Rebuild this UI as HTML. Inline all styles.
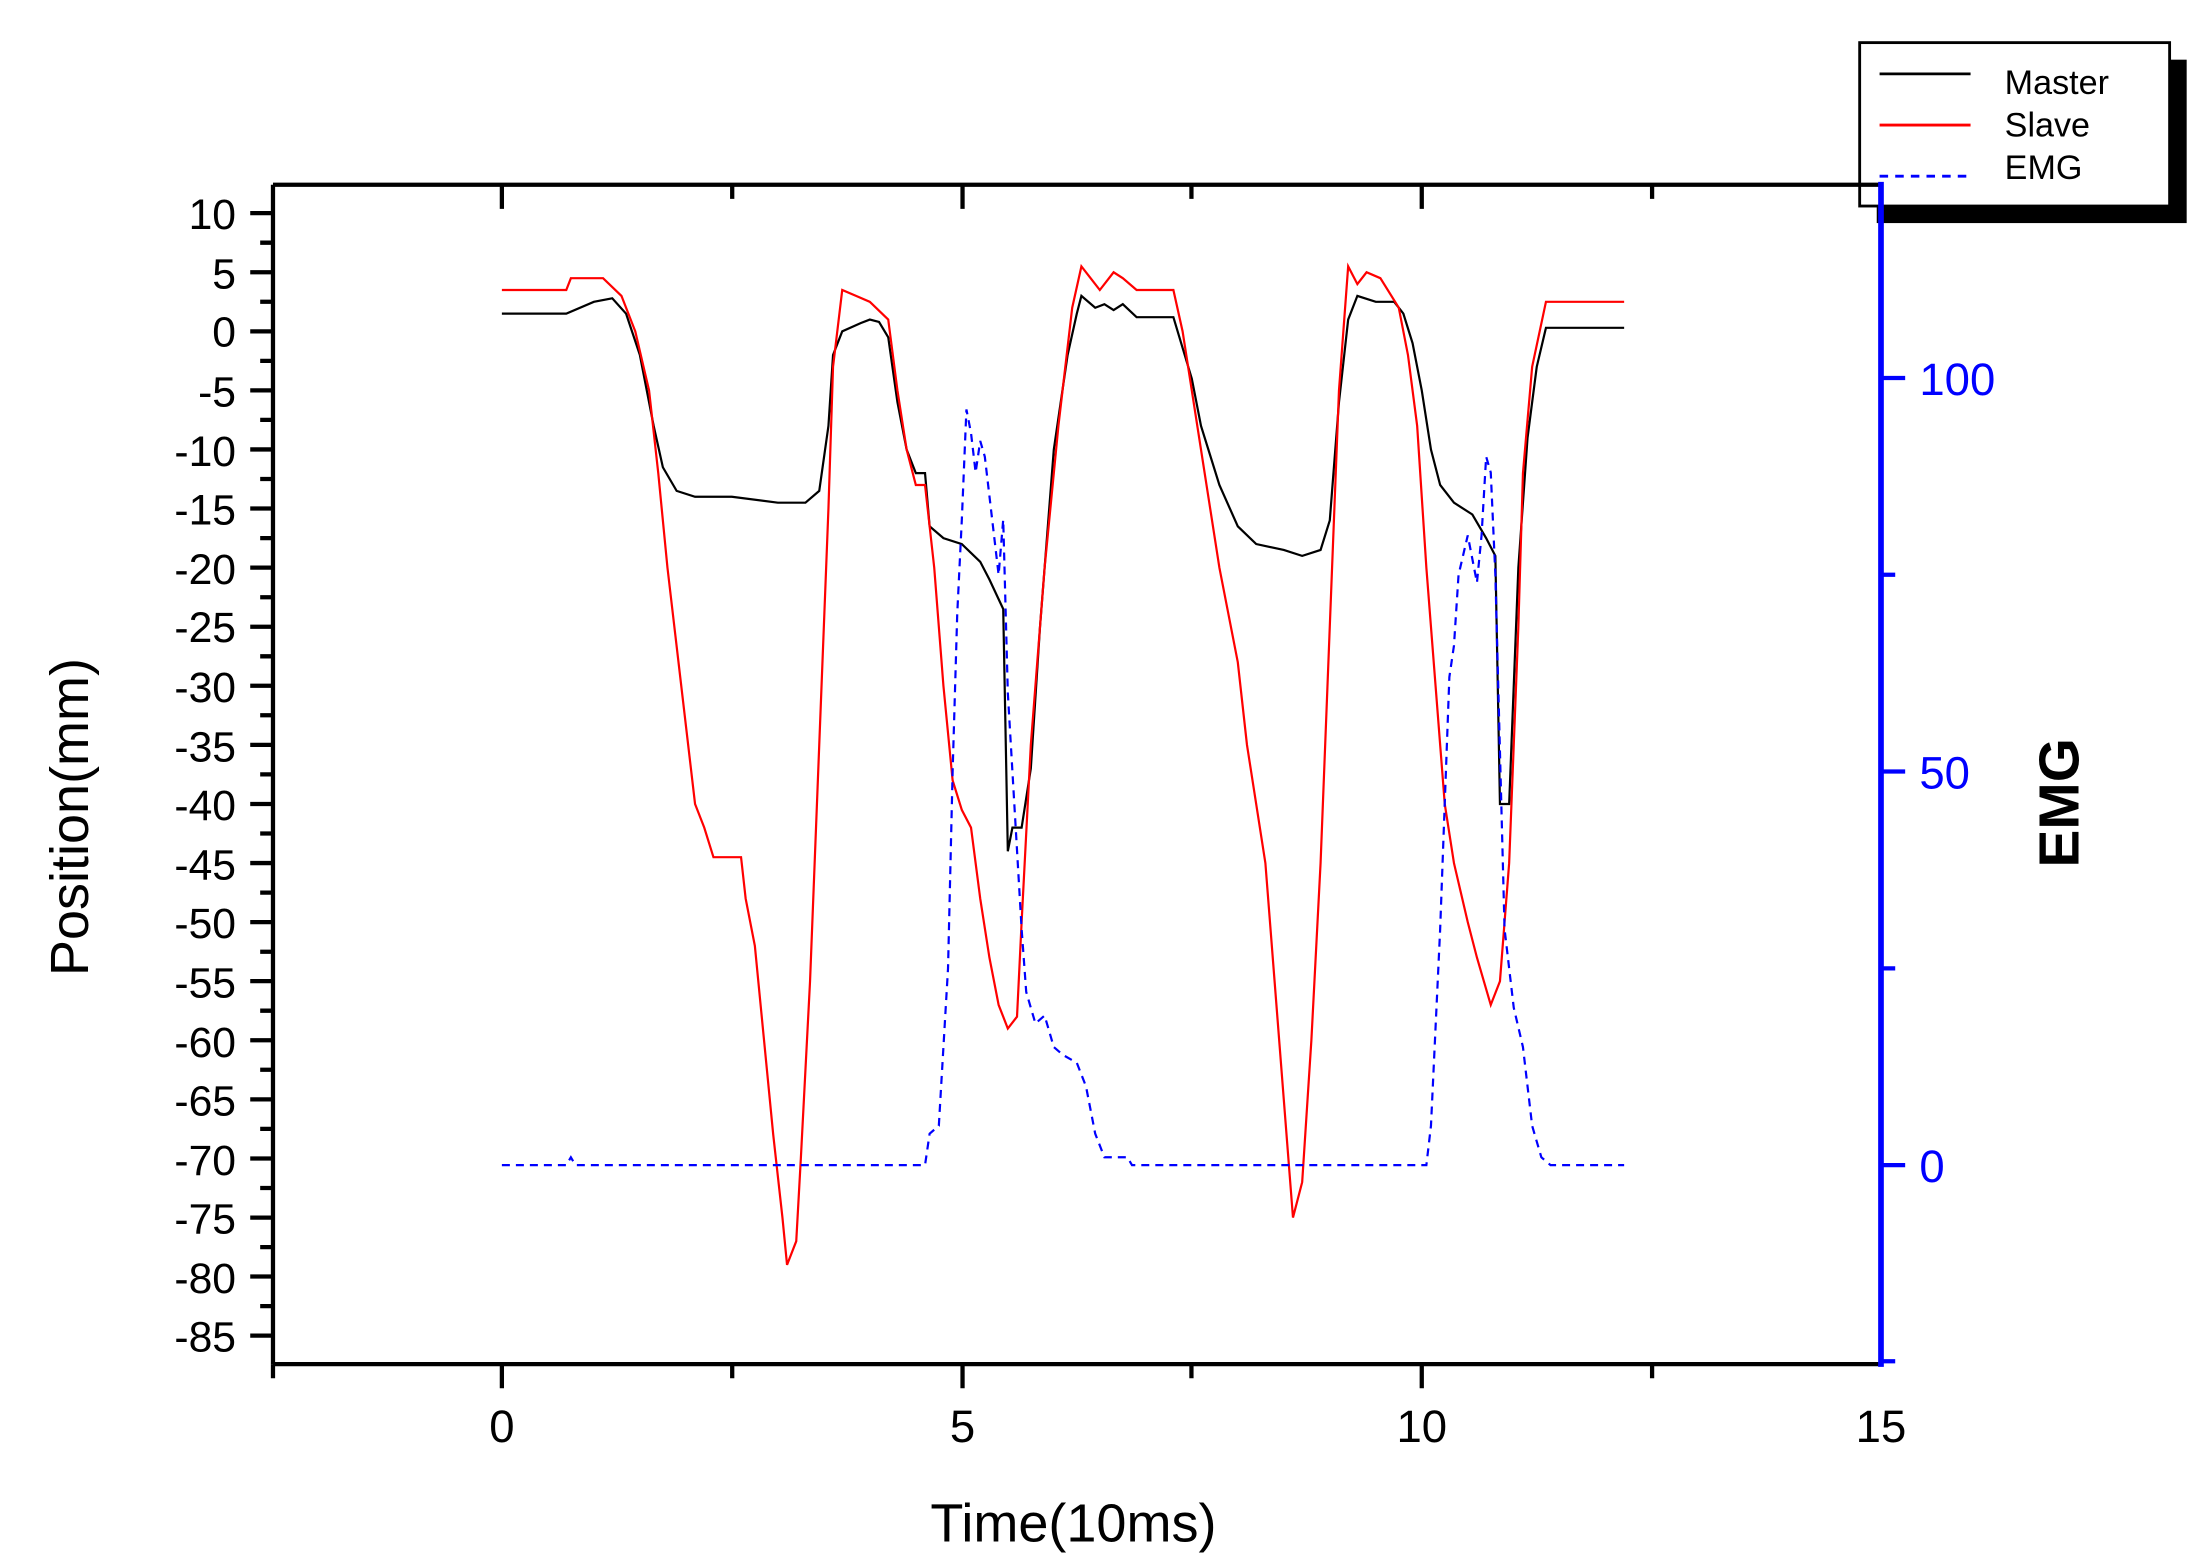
<!DOCTYPE html>
<html><head><meta charset="utf-8"><style>html,body{margin:0;padding:0;background:#fff}svg{display:block}</style></head>
<body>
<svg width="2208" height="1563" viewBox="0 0 1553 1100" preserveAspectRatio="none" xmlns="http://www.w3.org/2000/svg" font-family="Liberation Sans, sans-serif">
<rect width="1553" height="1100" fill="#fff"/>
<rect x="1320" y="42" width="218" height="115" fill="#000"/>
<rect x="1308" y="30" width="218" height="115" fill="#fff" stroke="#000" stroke-width="2"/>
<line x1="1322" y1="52" x2="1386" y2="52" stroke="#000" stroke-width="2"/>
<line x1="1322" y1="88" x2="1386" y2="88" stroke="#f00" stroke-width="2"/>
<line x1="1322" y1="124" x2="1386" y2="124" stroke="#00f" stroke-width="2" stroke-dasharray="6,5"/>
<text x="1410" y="66" font-size="24" fill="#000">Master</text>
<text x="1410" y="96" font-size="24" fill="#000">Slave</text>
<text x="1410" y="126" font-size="24" fill="#000">EMG</text>

<g transform="matrix(64.7 0 0 -8.316 353 233.2)" fill="none">
<polyline vector-effect="non-scaling-stroke" stroke="#000" stroke-width="2.2" points="0,1.5 0.7,1.5 1.0,2.5 1.2,2.8 1.35,1.5 1.5,-2 1.65,-8 1.75,-11.5 1.9,-13.5 2.1,-14 2.5,-14 3.0,-14.5 3.3,-14.5 3.45,-13.5 3.55,-8 3.6,-2 3.7,0 3.9,0.7 4.0,1.0 4.1,0.8 4.2,-0.5 4.3,-6 4.4,-10 4.5,-12 4.6,-12 4.65,-16.5 4.8,-17.5 5.0,-18 5.2,-19.5 5.3,-21 5.45,-23.5 5.5,-44 5.55,-42 5.65,-42 5.75,-37 5.85,-25 6.0,-10 6.15,-2 6.25,1.5 6.3,3 6.45,2 6.55,2.3 6.65,1.8 6.75,2.3 6.9,1.2 7.3,1.2 7.5,-4 7.6,-8 7.8,-13 8.0,-16.5 8.2,-18 8.5,-18.5 8.7,-19 8.9,-18.5 9.0,-16 9.1,-6 9.2,1 9.3,3 9.5,2.5 9.7,2.5 9.8,1.5 9.9,-1 10.0,-5 10.1,-10 10.2,-13 10.35,-14.5 10.55,-15.5 10.7,-17.5 10.8,-19 10.85,-40 10.95,-40 11.0,-30 11.05,-20 11.15,-9 11.25,-3 11.35,0.3 12.2,0.3"/>
<polyline vector-effect="non-scaling-stroke" stroke="#f00" stroke-width="2.2" points="0,3.5 0.7,3.5 0.75,4.5 1.1,4.5 1.3,3 1.45,0 1.6,-5 1.7,-12 1.8,-20 1.95,-30 2.1,-40 2.2,-42 2.3,-44.5 2.6,-44.5 2.65,-48 2.75,-52 2.85,-60 2.95,-68 3.05,-75 3.1,-79 3.2,-77 3.25,-70 3.35,-55 3.45,-35 3.55,-15 3.6,-3 3.7,3.5 3.85,3 4.0,2.5 4.2,1 4.3,-5 4.4,-10 4.5,-13 4.6,-13 4.7,-20 4.8,-30 4.9,-38 5.0,-40.5 5.1,-42 5.2,-48 5.3,-53 5.4,-57 5.5,-59 5.6,-58 5.65,-50 5.75,-35 5.9,-20 6.05,-8 6.2,2 6.3,5.5 6.4,4.5 6.5,3.5 6.65,5 6.75,4.5 6.9,3.5 7.3,3.5 7.4,0 7.6,-10 7.8,-20 8.0,-28 8.1,-35 8.3,-45 8.4,-55 8.5,-65 8.6,-75 8.7,-72 8.8,-60 8.9,-45 9.0,-25 9.1,-5 9.2,5.5 9.3,4 9.4,5 9.55,4.5 9.75,2 9.85,-2 9.95,-8 10.05,-20 10.15,-30 10.25,-40 10.35,-45 10.5,-50 10.6,-53 10.75,-57 10.85,-55 10.95,-45 11.05,-25 11.1,-12 11.2,-3 11.35,2.5 12.2,2.5"/>
</g>
<g transform="matrix(64.7 0 0 -5.54 353 820)" fill="none">
<polyline vector-effect="non-scaling-stroke" stroke="#00f" stroke-width="2.2" stroke-dasharray="8,6" points="0,0 0.7,0 0.75,1 0.8,0 4.6,0 4.65,4 4.75,5 4.85,25 4.9,50 4.95,70 5.0,82 5.05,96 5.1,93 5.15,88 5.2,92 5.25,90 5.3,85 5.35,80 5.4,75 5.45,82 5.5,60 5.55,50 5.6,40 5.65,30 5.7,22 5.75,20 5.8,18 5.9,19 6.0,15 6.1,14 6.25,13 6.35,10 6.45,4 6.55,1 6.8,1 6.85,0 7.3,0 10.05,0 10.1,5 10.2,30 10.3,62 10.35,66 10.4,75 10.5,80 10.6,74 10.65,80 10.7,90 10.75,88 10.8,75 10.9,30 11.0,20 11.1,15 11.2,5 11.3,1 11.4,0 12.2,0"/>
</g>

<g stroke="#000" stroke-width="3" fill="none">
<line x1="192" y1="130" x2="1323" y2="130"/>
<line x1="192" y1="960" x2="1323" y2="960"/>
<line x1="192" y1="130" x2="192" y2="960"/>
</g>
<line x1="1323" y1="128" x2="1323" y2="962" stroke="#00f" stroke-width="4"/>

<g stroke="#000" stroke-width="3">
<path d="M176 150H192M176 191.6H192M176 233.2H192M176 274.7H192M176 316.3H192M176 357.9H192M176 399.5H192M176 441.1H192M176 482.6H192M176 524.2H192M176 565.8H192M176 607.4H192M176 649H192M176 690.5H192M176 732.1H192M176 773.7H192M176 815.3H192M176 856.9H192M176 898.4H192M176 940H192"/>
<path d="M183 170.8H192M183 212.4H192M183 254H192M183 295.5H192M183 337.1H192M183 378.7H192M183 420.3H192M183 461.9H192M183 503.4H192M183 545H192M183 586.6H192M183 628.2H192M183 669.8H192M183 711.3H192M183 752.9H192M183 794.5H192M183 836.1H192M183 877.7H192M183 919.2H192"/>
<path d="M353 130V147M677 130V147M1000 130V147M515 130V140M838 130V140M1162 130V140"/>
<path d="M192 960V970M353 960V977M677 960V977M1000 960V977M515 960V970M838 960V970M1162 960V970"/>
</g>
<g stroke="#00f" stroke-width="3">
<path d="M1323 266H1340M1323 543H1340M1323 820H1340M1323 404.5H1333M1323 681.5H1333M1323 958H1333"/>
</g>

<g font-size="30" fill="#000" text-anchor="end">
<text x="166" y="161">10</text><text x="166" y="203">5</text><text x="166" y="244">0</text>
<text x="166" y="286">-5</text><text x="166" y="328">-10</text><text x="166" y="369">-15</text>
<text x="166" y="411">-20</text><text x="166" y="452">-25</text><text x="166" y="494">-30</text>
<text x="166" y="536">-35</text><text x="166" y="577">-40</text><text x="166" y="619">-45</text>
<text x="166" y="660">-50</text><text x="166" y="702">-55</text><text x="166" y="744">-60</text>
<text x="166" y="785">-65</text><text x="166" y="827">-70</text><text x="166" y="868">-75</text>
<text x="166" y="910">-80</text><text x="166" y="951">-85</text>
</g>
<g font-size="32" fill="#000" text-anchor="middle">
<text x="353" y="1015">0</text><text x="677" y="1015">5</text><text x="1000" y="1015">10</text><text x="1323" y="1015">15</text>
</g>
<g font-size="32" fill="#00f">
<text x="1350" y="278">100</text><text x="1350" y="555">50</text><text x="1350" y="832">0</text>
</g>
<text x="755" y="1085" font-size="38" text-anchor="middle" fill="#000">Time(10ms)</text>
<text transform="translate(62,575) rotate(-90)" font-size="38" text-anchor="middle" fill="#000">Position(mm)</text>
<text transform="translate(1462,565) rotate(-90)" font-size="40" font-weight="bold" text-anchor="middle" fill="#000">EMG</text>
</svg>
</body></html>
